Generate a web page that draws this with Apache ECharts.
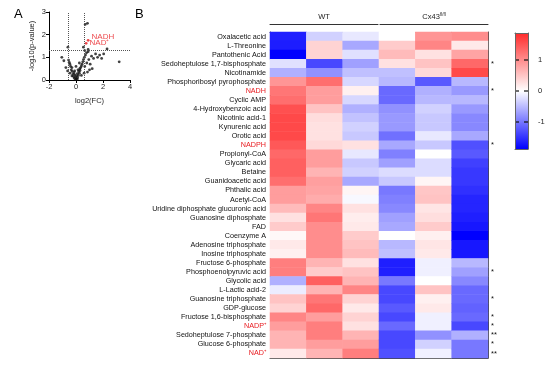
<!DOCTYPE html>
<html><head><meta charset="utf-8">
<script src="https://cdn.jsdelivr.net/npm/echarts@6/dist/echarts.min.js"></script>
<style>html,body{margin:0;padding:0;background:#fff}#c{width:556px;height:367px}</style>
</head><body><div id="c"></div>
<script>
// ---------- Panel B data ----------
const metabolites = ["Oxalacetic acid","L-Threonine","Pantothenic Acid","Sedoheptulose 1,7-bisphosphate","Nicotinamide","Phosphoribosyl pyrophosphate","NADH","Cyclic AMP","4-Hydroxybenzoic acid","Nicotinic acid-1","Kynurenic acid","Orotic acid","NADPH","Propionyl-CoA","Glycaric acid","Betaine","Guanidoacetic acid","Phthalic acid","Acetyl-CoA","Uridine diphosphate glucuronic acid","Guanosine diphosphate","FAD","Coenzyme A","Adenosine triphosphate","Inosine triphosphate","Fructose 6-phosphate","Phosphoenolpyruvic acid","Glycolic acid","L-Lactic acid-2","Guanosine triphosphate","GDP-glucose","Fructose 1,6-bisphosphate","NADP⁺","Sedoheptulose 7-phosphate","Glucose 6-phosphate","NAD⁺"];
const highlighted = ["NADH","NADPH","NADP⁺","NAD⁺"];
const significance = ["","","","*","","","*","","","","","","*","","","","","","","","","","","","","","*","","","*","","*","*","**","*","**"];
const samples = ["WT-1","WT-2","WT-3","Cx43-1","Cx43-2","Cx43-3"];
const groups = ["WT","Cx43"];
const wt1 = [-1.64,-1.66,-1.87,-0.23,-0.58,0.93,1.2,1.27,1.54,1.6,1.6,1.6,1.47,1.33,1.4,1.4,1.27,0.86,0.86,0.6,0.26,0.46,0.06,0.19,0.13,1.13,1.13,-0.58,-0.14,0.53,0.39,1.07,0.86,0.66,0.66,0.19];
const wt2 = [-0.34,0.39,0.39,-1.34,-0.81,1.27,0.86,0.86,0.53,0.3,0.26,0.26,0.33,0.86,0.86,0.66,0.84,0.8,0.73,1.07,1.2,1.0,1.0,1.0,1.0,0.66,0.46,1.4,0.66,1.2,1.33,0.86,1.13,1.13,0.86,0.66];
const wt3 = [-0.17,-0.64,-0.23,-0.7,-0.46,-0.29,0.13,-0.29,-0.58,-0.45,-0.34,-0.4,0.26,-0.17,-0.4,-0.34,-0.64,0.09,-0.05,0.26,0.16,0.19,0.46,0.53,0.6,0.26,0.53,0.66,1.07,0.39,0.19,0.39,0.26,0.66,0.86,1.13];
const ko1 = [0,0.46,0.6,0.26,-0.46,-0.52,-1.1,-1.1,-0.81,-0.75,-0.75,-1.05,-0.64,-0.93,-0.7,-0.26,-0.4,-0.99,-0.93,-0.87,-0.7,-0.64,0,-0.52,-0.46,-1.64,-1.64,-0.99,-1.34,-1.34,-1.22,-1.34,-1.1,-1.34,-1.34,-1.28];
const ko2 = [0.93,1.07,0.26,0.53,0.33,-1.22,-0.58,-0.52,-0.34,-0.4,-0.4,-0.17,-0.4,0,-0.26,-0.26,0.09,0.5,0.53,0.23,0.29,0.46,0.13,0.23,0.19,-0.11,-0.11,0,0.53,0.13,0.19,-0.11,-0.11,-0.81,-0.34,-0.11];
const ko3 = [1.0,0.19,0.8,1.33,1.6,-0.52,-0.75,-0.52,-0.75,-0.87,-0.87,-0.64,-1.28,-1.22,-1.4,-1.46,-1.46,-1.52,-1.6,-1.6,-1.64,-1.7,-1.87,-1.7,-1.7,-0.52,-0.7,-0.87,-1.1,-1.1,-1.15,-1.1,-1.34,-0.58,-0.99,-0.99];
const scaleMin = -1.87, scaleMax = 1.87;
const colorbarTicks = [-1,0,1];
const colorLow = '#0000FF', colorMid = '#FFFFFF', colorHigh = '#FF2A2A';

// ---------- Panel A data ----------
const volcanoX = [-0.05,0.02,0.08,-0.12,0.12,-0.02,0.05,-0.18,0.18,-0.08,0.1,-0.22,0.25,-0.15,0.2,-0.28,0.3,-0.35,0.28,-0.3,0.35,-0.4,0.4,-0.45,0.45,-0.5,0.5,-0.55,0.55,-0.62,-0.75,-0.9,-1.05,-0.45,-0.3,0.62,0.7,0.78,0.9,0.65,0.8,0.95,1.05,1.15,1.3,1.45,1.6,1.75,1.9,2.05,1.2,1.0,0.85,0.6,0.4,-0.6,0.55,0.65,0.9,2.3,3.2,0.68,0.85,0.15,-0.1,0.0,0.25];
const volcanoY = [0.02,0.05,0.03,0.08,0.1,0.12,0.18,0.15,0.2,0.22,0.28,0.25,0.3,0.32,0.38,0.38,0.42,0.45,0.5,0.55,0.55,0.6,0.62,0.7,0.7,0.78,0.8,0.88,0.9,0.4,0.55,0.85,1.0,0.3,0.18,1.0,1.1,1.2,1.25,0.6,0.75,0.9,0.7,1.05,0.95,1.15,1.0,1.1,0.95,1.15,0.5,0.45,0.35,0.3,0.2,1.45,1.45,1.3,1.35,1.37,0.8,2.45,2.5,0.45,0.4,0.6,0.75];
const highlightNames = ["NADH","NAD⁺"];
const highlightX = [0.9,0.75];
const highlightY = [1.75,1.62];
const fcThreshold = 0.585, pThreshold = 1.3;

// ---------- build ----------
const FONT = "'Liberation Sans', Arial, sans-serif";
const cols = [wt1,wt2,wt3,ko1,ko2,ko3];
const heat = [];
cols.forEach((arr,c)=>arr.forEach((v,r)=>heat.push([c,r,v])));
const black = '#222';
const axBase = {axisLine:{show:true,onZero:false,lineStyle:{color:'#000',width:1}},axisTick:{show:true,length:3,lineStyle:{color:'#000'}},splitLine:{show:false},axisLabel:{fontSize:7.5,color:black,fontFamily:FONT,margin:3}};
const hdrLine = {show:true,onZero:false,lineStyle:{color:'#333',width:1}};
const cbLine = {show:true,onZero:false,lineStyle:{color:'#666',width:1}};
const vgrad = (top,bottom)=>({type:'linear',x:0,y:0,x2:0,y2:1,colorStops:[{offset:0,color:top},{offset:1,color:bottom}]});

const option = {
  animation:false,
  backgroundColor:'#fff',
  textStyle:{fontFamily:FONT},
  title:[
    {text:'A',left:9,top:3,textStyle:{fontSize:13,fontWeight:'normal',color:'#000',fontFamily:FONT}},
    {text:'B',left:130,top:3,textStyle:{fontSize:13,fontWeight:'normal',color:'#000',fontFamily:FONT}}
  ],
  grid:[
    {left:49,top:12,width:81,height:68},
    {left:270,top:32,width:218,height:326},
    {left:270,top:32,width:108,height:326},
    {left:380,top:32,width:108,height:326},
    {left:515,top:33,width:13,height:116}
  ],
  xAxis:[
    Object.assign({},axBase,{gridIndex:0,type:'value',min:-2,max:4,interval:2,name:'log2(FC)',nameLocation:'middle',nameGap:17,nameTextStyle:{fontSize:7.5,color:black,fontFamily:FONT}}),
    {gridIndex:1,type:'category',data:samples,position:'bottom',axisLine:{show:true,onZero:false,lineStyle:{color:'#444',width:1}},axisTick:{show:false},axisLabel:{show:false},splitLine:{show:false}},
    {gridIndex:1,type:'category',data:samples,position:'top',axisLine:{show:true,onZero:false,lineStyle:{color:'#444',width:1}},axisTick:{show:false},axisLabel:{show:false},splitLine:{show:false}},
    {gridIndex:2,type:'category',data:[groups[0]],position:'top',offset:8,axisLine:hdrLine,axisTick:{show:false},axisLabel:{fontSize:7.5,color:black,margin:3,fontFamily:FONT}},
    {gridIndex:3,type:'category',data:[groups[1]],position:'top',offset:8,axisLine:hdrLine,axisTick:{show:false},axisLabel:{fontSize:7.5,color:black,margin:3,fontFamily:FONT,formatter:v=>'{a|'+v+'}{s|fl/fl}',rich:{a:{fontSize:7.5,color:black},s:{fontSize:4.5,color:black,verticalAlign:'top',padding:[0,0,4,0]}}}},
    {gridIndex:4,type:'category',data:['scale'],position:'bottom',z:10,axisLine:cbLine,axisTick:{show:false},axisLabel:{show:false},splitLine:{show:false}},
    {gridIndex:4,type:'category',data:['scale'],position:'top',z:10,axisLine:cbLine,axisTick:{show:false},axisLabel:{show:false},splitLine:{show:false}}
  ],
  yAxis:[
    Object.assign({},axBase,{gridIndex:0,type:'value',min:0,max:3,interval:1,name:'-log10(p-value)',nameLocation:'middle',nameGap:13,nameRotate:90,nameTextStyle:{fontSize:7.5,color:black,fontFamily:FONT}}),
    {gridIndex:1,type:'category',data:metabolites,inverse:true,position:'left',axisLine:{show:true,onZero:false,lineStyle:{color:'#444',width:1}},axisTick:{show:false},splitLine:{show:false},
      axisLabel:{fontSize:7.2,margin:4,fontFamily:FONT,interval:0,color:v=>highlighted.includes(v)?'#E8191E':'#111'}},
    {gridIndex:1,type:'category',data:metabolites,inverse:true,position:'right',axisLine:{show:true,onZero:false,lineStyle:{color:'#444',width:1}},axisTick:{show:false},splitLine:{show:false},
      axisLabel:{fontSize:7.5,margin:3,fontFamily:FONT,interval:0,color:'#111',formatter:(v,i)=>significance[i]}},
    {gridIndex:2,type:'value',show:false},
    {gridIndex:3,type:'value',show:false},
    {gridIndex:4,type:'value',min:scaleMin,max:scaleMax,position:'right',z:10,axisLine:cbLine,axisTick:{show:false},
      axisLabel:{show:true,customValues:colorbarTicks,fontSize:7.5,color:black,margin:10,fontFamily:FONT},splitLine:{show:false}},
    {gridIndex:4,type:'value',min:scaleMin,max:scaleMax,position:'left',z:10,axisLine:cbLine,axisTick:{show:false},
      axisLabel:{show:false},splitLine:{show:false}}
  ],
  visualMap:{type:'continuous',show:false,seriesIndex:2,min:scaleMin,max:scaleMax,inRange:{color:[colorLow,colorMid,colorHigh]}},
  series:[
    {type:'scatter',xAxisIndex:0,yAxisIndex:0,symbolSize:2.8,itemStyle:{color:'#111'},data:volcanoX.map((x,i)=>[x,volcanoY[i]]),
      markLine:{silent:true,symbol:'none',label:{show:false},lineStyle:{type:'dotted',color:'#555',width:1},data:[{xAxis:-fcThreshold},{xAxis:fcThreshold},{yAxis:pThreshold}]}},
    {type:'scatter',xAxisIndex:0,yAxisIndex:0,symbolSize:2.8,itemStyle:{color:'#E8191E'},
      data:highlightNames.map((n,i)=>({name:n,value:[highlightX[i],highlightY[i]],label:{offset:i===0?[0,-4]:[0,0]}})),
      label:{show:true,position:'right',distance:2,formatter:p=>p.name,fontSize:8,color:'#E8191E',fontFamily:FONT}},
    {type:'heatmap',xAxisIndex:1,yAxisIndex:1,data:heat,itemStyle:{borderWidth:0}},
    {type:'bar',xAxisIndex:5,yAxisIndex:5,barWidth:'100%',barGap:'-100%',silent:true,itemStyle:{color:vgrad(colorHigh,colorMid)},data:[scaleMax]},
    {type:'bar',xAxisIndex:5,yAxisIndex:5,barWidth:'100%',barGap:'-100%',silent:true,itemStyle:{color:vgrad(colorMid,colorLow)},data:[scaleMin]},
    {type:'scatter',xAxisIndex:5,yAxisIndex:5,z:6,silent:true,symbol:'path://M0 0H4V1H0Z M9 0H13V1H9Z',symbolKeepAspect:false,symbolSize:[13,1.3],itemStyle:{color:'#111'},
      data:colorbarTicks.map(t=>[0,t])}
  ]
};
const chart = echarts.init(document.getElementById('c'),null,{renderer:'canvas'});
chart.setOption(option);
</script></body></html>
